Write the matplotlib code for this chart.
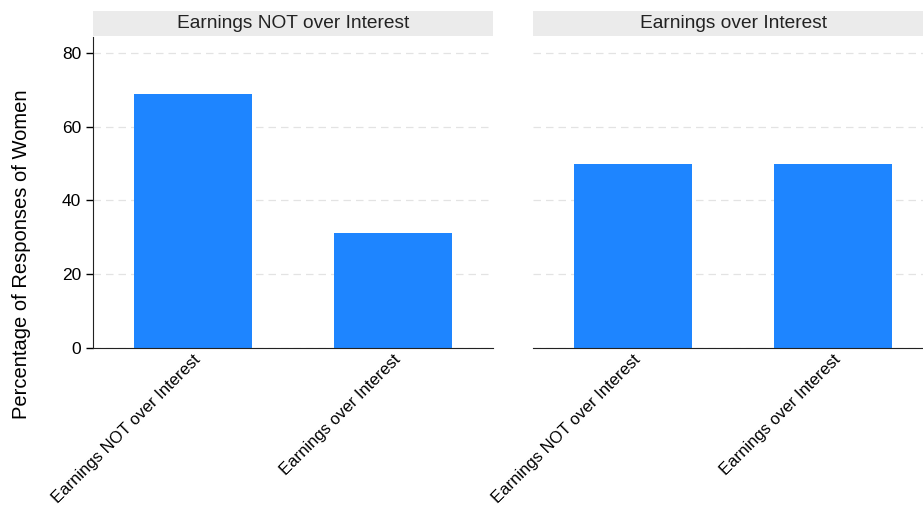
import matplotlib.pyplot as plt
import numpy as np

plt.rcParams['font.family'] = ['Liberation Sans', 'DejaVu Sans']

# Panels (facet) and categories
panels = ["Earnings NOT over Interest", "Earnings over Interest"]
categories = ["Earnings NOT over Interest", "Earnings over Interest"]
# Percentage of responses of women, per panel
values_not_over = [68.75, 31.25]
values_over = [50.0, 50.0]
panel_values = [values_not_over, values_over]
yticks = [0, 20, 40, 60, 80]

bar_color = '#1e85ff'

fig = plt.figure(figsize=(9.23, 5.09), dpi=100)
# right panel runs slightly past the image edge, as in the original crop
ax_left = fig.add_axes([93 / 923, 0.3163, 400 / 923, 0.611])
ax_right = fig.add_axes([533 / 923, 0.3163, 400 / 923, 0.611])
axes = [ax_left, ax_right]

x_pos = np.arange(1, len(categories) + 1)

for i, ax in enumerate(axes):
    ax.bar(x_pos, panel_values[i], width=0.593, color=bar_color, zorder=2)
    ax.set_xlim(0.5, 2.5)
    ax.set_ylim(0, 84.3)
    ax.set_yticks(yticks)
    ax.grid(axis='y', color='#e3e3e3', linestyle=(0, (6, 4)), linewidth=0.9, zorder=0)
    ax.set_xticks(x_pos)
    ax.set_xticklabels(categories, rotation=45, ha='right', rotation_mode='anchor', fontsize=12)
    ax.tick_params(axis='x', length=0, pad=3)
    ax.tick_params(axis='y', labelsize=12.5, length=5, width=1)
    for side in ['top', 'right']:
        ax.spines[side].set_visible(False)
    ax.spines['bottom'].set_color('#222222')
    ax.spines['left'].set_color('#222222')

    # facet strip header
    bb = ax.get_position()
    rect = plt.Rectangle((bb.x0, 1 - 36 / 509), bb.width, 25 / 509, transform=fig.transFigure,
                         facecolor='#ebebeb', edgecolor='none', zorder=0)
    fig.patches.append(rect)
    fig.text(bb.x0 + bb.width / 2, 1 - 23.5 / 509, panels[i], ha='center', va='center',
             fontsize=13.8, color='#222222', zorder=5)

ax_left.set_ylabel("Percentage of Responses of Women", fontsize=14.5)
ax_left.yaxis.set_label_coords(-0.155, 0.30)

ax_right.spines['left'].set_visible(False)
ax_right.tick_params(axis='y', left=False, labelleft=False)

fig.savefig('out.png', dpi=100)
